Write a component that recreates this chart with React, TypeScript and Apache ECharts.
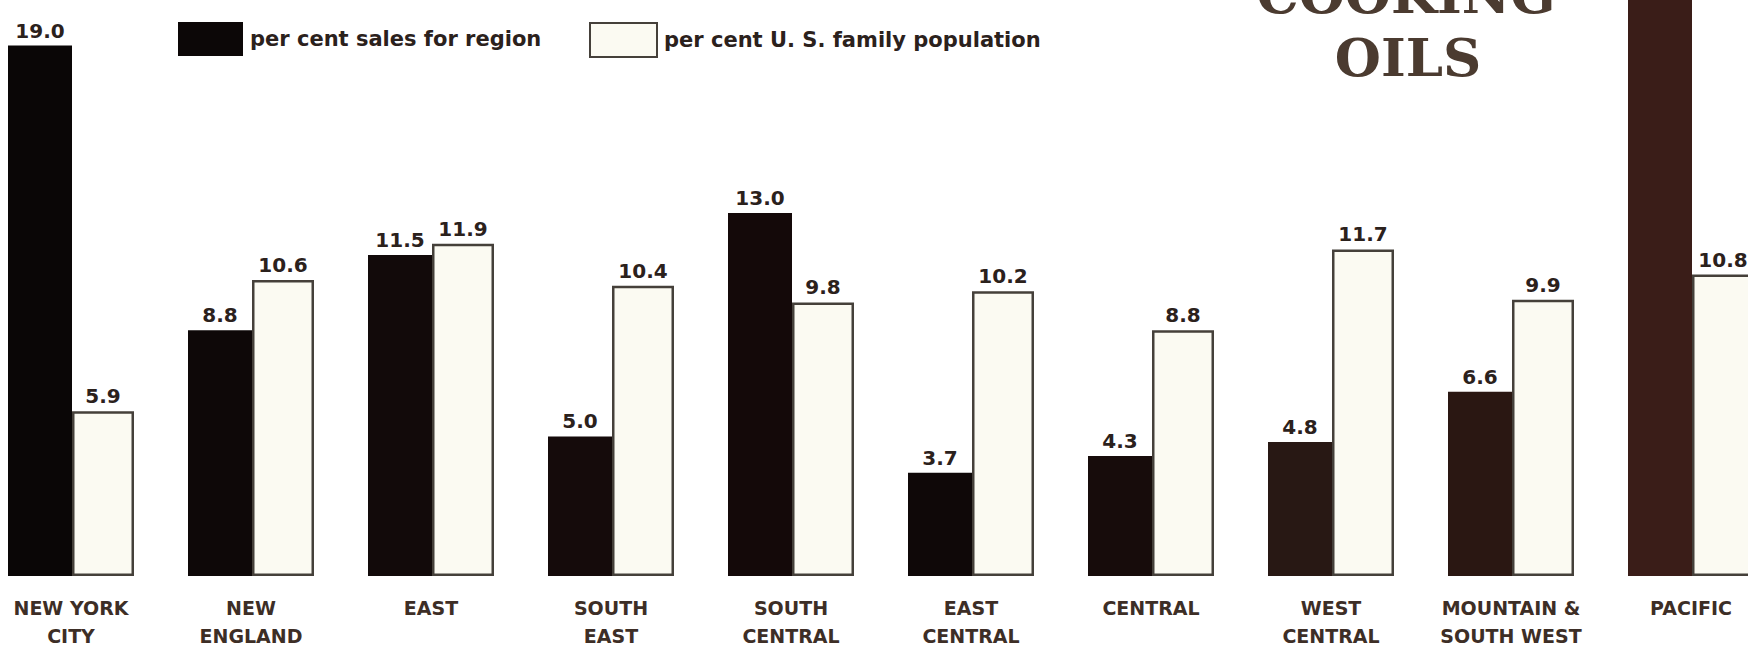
import React, { useEffect, useRef } from "react";
import * as echarts from "echarts";

// ---- data ----
const categories = [
  "NEW YORK\nCITY",
  "NEW\nENGLAND",
  "EAST",
  "SOUTH\nEAST",
  "SOUTH\nCENTRAL",
  "EAST\nCENTRAL",
  "CENTRAL",
  "WEST\nCENTRAL",
  "MOUNTAIN &\nSOUTH WEST",
  "PACIFIC",
];
const salesPct = [19.0, 8.8, 11.5, 5.0, 13.0, 3.7, 4.3, 4.8, 6.6, 23.3];
const familyPct = [5.9, 10.6, 11.9, 10.4, 9.8, 10.2, 8.8, 11.7, 9.9, 10.8];
const seriesNames = ["per cent sales for region", "per cent U. S. family population"];
const titleLines = ["COOKING", "OILS"];

// ---- styles ----
const darkShades = [
  "#0a0606",
  "#0e0808",
  "#120a0a",
  "#150b0b",
  "#140909",
  "#0f0808",
  "#170c0b",
  "#281814",
  "#2a1712",
  "#3a1d18",
];
const VISIBLE_MAX = 20.5; // value at the top edge of the photograph

export default function App() {
  const ref = useRef<HTMLDivElement>(null);

  useEffect(() => {
    if (!ref.current) return;
    const chart = echarts.init(ref.current, undefined, { renderer: "svg" });

    const valueLabel = {
      show: true,
      position: "top",
      distance: 5,
      fontFamily: "DejaVu Sans",
      fontWeight: "bold",
      fontSize: 20,
      color: "#2b211c",
      formatter: (p: any) => Number(p.value).toFixed(1),
    };

    const legendText = {
      fontFamily: "DejaVu Sans",
      fontWeight: "bold",
      fontSize: 21,
      color: "#2b211c",
      padding: [0, 0, 0, 2],
    };

    const option: any = {
      animation: false,
      backgroundColor: "#ffffff",
      graphic: [
        {
          type: "text",
          x: 1406,
          y: -6,
          style: {
            text: titleLines[0],
            align: "center",
            verticalAlign: "middle",
            fontFamily: "DejaVu Serif",
            fontWeight: 900,
            fontSize: 53,
            fill: "#4b3b30",
          },
        },
        {
          type: "text",
          x: 1408,
          y: 57,
          style: {
            text: titleLines[1],
            align: "center",
            verticalAlign: "middle",
            fontFamily: "DejaVu Serif",
            fontWeight: 900,
            fontSize: 53,
            fill: "#4b3b30",
          },
        },
      ],
      legend: [
        {
          data: [seriesNames[0]],
          left: 178,
          top: 22,
          padding: 0,
          itemWidth: 65,
          itemHeight: 34,
          icon: "rect",
          selectedMode: false,
          textStyle: legendText,
        },
        {
          data: [seriesNames[1]],
          left: 589,
          top: 22,
          padding: 0,
          itemWidth: 67,
          itemHeight: 34,
          icon: "rect",
          selectedMode: false,
          textStyle: legendText,
        },
      ],
      grid: {
        left: -19,
        width: 1800,
        top: -94,
        height: 670,
        outerBoundsMode: "none",
        containLabel: false,
      },
      xAxis: {
        type: "category",
        data: categories,
        axisLine: { show: false },
        axisTick: { show: false },
        splitLine: { show: false },
        axisLabel: {
          interval: 0,
          margin: 18,
          fontFamily: "DejaVu Sans",
          fontWeight: "bold",
          fontSize: 19,
          lineHeight: 28,
          color: "#3d2e26",
        },
      },
      yAxis: {
        type: "value",
        min: 0,
        max: 24,
        show: false,
        splitLine: { show: false },
      },
      series: [
        {
          name: seriesNames[0],
          type: "bar",
          barWidth: 64,
          barGap: "0%",
          itemStyle: { color: "#0c0707" },
          label: valueLabel,
          data: salesPct.map((v, i) => ({
            value: v,
            itemStyle: { color: darkShades[i] },
            label: { show: v <= VISIBLE_MAX },
          })),
        },
        {
          name: seriesNames[1],
          type: "bar",
          barWidth: 62,
          barGap: "0%",
          itemStyle: {
            color: "#fbfaf2",
            borderColor: "#45403a",
            borderWidth: 2.5,
          },
          label: valueLabel,
          data: familyPct,
        },
      ],
    };

    chart.setOption(option);
    return () => chart.dispose();
  }, []);

  return (
    <div
      ref={ref}
      style={{ position: "fixed", left: 0, top: 0, width: 1748, height: 651 }}
    />
  );
}
